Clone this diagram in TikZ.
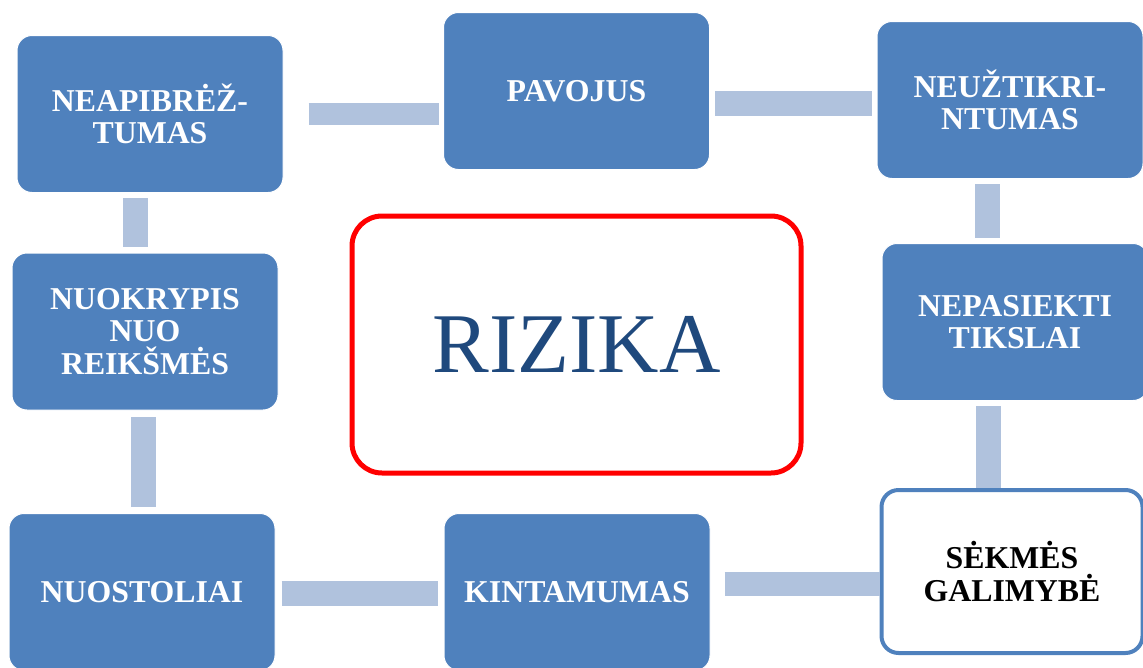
\documentclass[tikz,border=0pt]{standalone}
\usepackage{fontspec}
\setmainfont{Liberation Serif}
\definecolor{boxblue}{HTML}{4F81BD}
\definecolor{connblue}{HTML}{B0C2DD}
\definecolor{rizblue}{HTML}{1F497D}
\definecolor{rizred}{HTML}{FF0000}
\tikzset{
  bluebox/.style={rectangle, rounded corners=15pt, fill=boxblue, draw=white, line width=1pt,
    minimum width=266pt, minimum height=157pt, inner sep=0pt, align=center, text=white,
    font=\fontsize{31.8}{32.5}\selectfont\bfseries},
  whitebox/.style={rectangle, rounded corners=17pt, fill=white, draw=boxblue, line width=4pt,
    minimum width=261pt, minimum height=163pt, inner sep=0pt, align=center, text=black,
    font=\fontsize{31.8}{32.5}\selectfont\bfseries},
  centerbox/.style={rectangle, rounded corners=30pt, fill=white, draw=rizred, line width=5pt,
    minimum width=449pt, minimum height=257pt, inner sep=0pt, text=rizblue,
    font=\fontsize{85}{90}\selectfont},
  conn/.style={draw=connblue, line width=#1, line cap=butt},
  conn/.default=23pt
}
\begin{document}
\begin{tikzpicture}[x=1pt,y=-1pt]
\useasboundingbox (0,0) rectangle (1143,667);
\clip (0,0) rectangle (1143,667);
% boxes
\node[bluebox] (b1) at (150,114) {NEAPIBRĖŽ-\\TUMAS};
\node[bluebox] (b2) at (576.5,91) {PAVOJUS};
\node[bluebox] (b3) at (1010,100) {NEUŽTIKRI-\\NTUMAS};
\node[bluebox] (b4) at (1015,322) {NEPASIEKTI\\TIKSLAI};
\node[whitebox] (b5) at (1012,571.5) {SĖKMĖS\\GALIMYBĖ};
\node[bluebox] (b6) at (577,592) {KINTAMUMAS};
\node[bluebox] (b7) at (142,592) {NUOSTOLIAI};
\node[bluebox] (b8) at (145,331.5) {NUOKRYPIS\\NUO\\REIKŠMĖS};
\node[centerbox] (r) at (576.5,344.5) {RIZIKA};
% connectors
\draw[conn=22pt, shorten <=25pt, shorten >=4pt] (b1.east) -- (b1.east -| b2.west);
\draw[conn=25pt, shorten <=5pt, shorten >=5pt] ([yshift=-12.5pt]b2.east) -- ([yshift=-12.5pt]b2.east -| b3.west);
\draw[conn=25pt, shorten <=5pt, shorten >=5pt] ([xshift=-22.5pt]b3.south) -- ([xshift=-22.5pt]b3.south |- b4.north);
\draw[conn=25pt, shorten <=5pt, shorten >=0pt] ([xshift=-26.5pt]b4.south) -- ([xshift=-26.5pt]b4.south |- b5.north);
\draw[conn=24pt, shorten <=14pt, shorten >=0pt] ([yshift=8pt]b6.east) -- ([yshift=8pt]b6.east -| b5.west);
\draw[conn=25pt, shorten <=6pt, shorten >=6pt] ([yshift=-1.5pt]b7.east) -- ([yshift=-1.5pt]b7.east -| b6.west);
\draw[conn=25pt, shorten <=6pt, shorten >=6pt] ([xshift=1.5pt]b7.north) -- ([xshift=1.5pt]b7.north |- b8.south);
\draw[conn=25pt, shorten <=6pt, shorten >=5pt] ([xshift=-9.5pt]b8.north) -- ([xshift=-9.5pt]b8.north |- b1.south);
\end{tikzpicture}
\end{document}
